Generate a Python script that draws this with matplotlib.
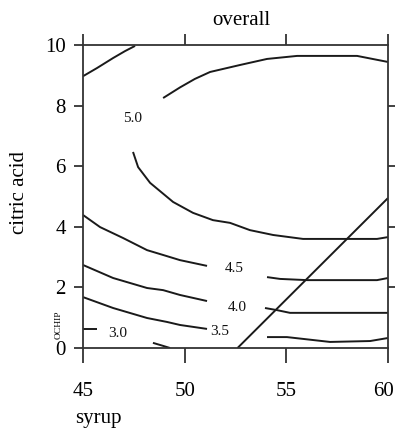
import matplotlib
matplotlib.use('Agg')
import matplotlib.pyplot as plt
import matplotlib.transforms as mtransforms

plt.rcParams['font.family'] = ['Liberation Serif', 'DejaVu Serif']

syrup_ticks = [45, 50, 55, 60]
acid_ticks = [0, 2, 4, 6, 8, 10]
acid_ticks_right = [2, 4, 6, 8]

# contour pieces (syrup, citric acid)
c50_corner_x = [45.0, 45.69, 46.48, 47.07, 47.56]
c50_corner_y = [8.97, 9.24, 9.57, 9.80, 9.97]
c50_top_x = [48.94, 49.77, 50.5, 51.25, 52.72, 54.05, 55.53, 58.48, 60.0]
c50_top_y = [8.25, 8.60, 8.88, 9.11, 9.34, 9.54, 9.64, 9.64, 9.44]
c50_low_x = [47.46, 47.71, 48.30, 49.43, 50.41, 51.39, 52.23, 53.21, 54.35, 55.82, 59.46, 60.0]
c50_low_y = [6.47, 5.97, 5.45, 4.82, 4.46, 4.22, 4.13, 3.89, 3.73, 3.60, 3.60, 3.66]

c45_left_x = [45.0, 45.84, 46.97, 48.15, 48.94, 49.77, 51.1]
c45_left_y = [4.39, 3.99, 3.63, 3.23, 3.07, 2.90, 2.71]
c45_right_x = [54.05, 54.69, 56.02, 59.46, 60.0]
c45_right_y = [2.34, 2.28, 2.24, 2.24, 2.31]

c40_left_x = [45.0, 46.48, 48.15, 48.94, 49.77, 51.1]
c40_left_y = [2.74, 2.31, 1.98, 1.91, 1.75, 1.55]
c40_right_x = [53.95, 54.54, 55.18, 60.0]
c40_right_y = [1.32, 1.25, 1.16, 1.16]

c35_left_x = [45.0, 46.48, 48.15, 49.13, 49.77, 51.1]
c35_left_y = [1.68, 1.32, 0.99, 0.86, 0.76, 0.63]
c35_right_x = [54.05, 55.03, 57.15, 59.12, 60.0]
c35_right_y = [0.36, 0.36, 0.20, 0.23, 0.33]

c30_left_x = [45.0, 45.7]
c30_left_y = [0.63, 0.63]
c30_bottom_x = [48.44, 48.94, 49.28]
c30_bottom_y = [0.17, 0.07, 0.0]

# straight boundary line on the right
edge_x = [52.6, 60.0]
edge_y = [0.0, 4.95]

level_labels = ['5.0', '4.5', '4.0', '3.5', '3.0']
level_x = [47.46, 52.45, 52.57, 51.74, 46.72]
level_y = [7.56, 2.64, 1.34, 0.54, 0.48]

fig = plt.figure(figsize=(3.96, 4.32), dpi=100)
ax = fig.add_axes([83/396, 1-348/432, 305/396, 303/432])

line_col = '#1a1a1a'
pieces = [
    (c50_corner_x, c50_corner_y), (c50_top_x, c50_top_y), (c50_low_x, c50_low_y),
    (c45_left_x, c45_left_y), (c45_right_x, c45_right_y),
    (c40_left_x, c40_left_y), (c40_right_x, c40_right_y),
    (c35_left_x, c35_left_y), (c35_right_x, c35_right_y),
    (c30_left_x, c30_left_y), (c30_bottom_x, c30_bottom_y),
    (edge_x, edge_y),
]
for px, py in pieces:
    ax.plot(px, py, color=line_col, lw=1.4, solid_capstyle='butt')

for lab, lx, ly in zip(level_labels, level_x, level_y):
    ax.text(lx, ly, lab, fontsize=11, ha='center', va='center', color='#111111')

ax.set_xlim(45, 60)
ax.set_ylim(0, 10)
ax.set_xticks(syrup_ticks)
ax.set_yticks(acid_ticks)
ax.tick_params(axis='x', direction='out', length=10.8, width=1.3, pad=13.5,
               labelsize=15, color='#333333')
ax.tick_params(axis='y', direction='out', length=6.5, width=1.3, pad=6,
               labelsize=15, color='#333333')
for s in ax.spines.values():
    s.set_linewidth(1.3)
    s.set_color('#333333')

# last x label sits a bit left so it stays inside the picture
shift = mtransforms.ScaledTranslation(-5/100, 0, fig.dpi_scale_trans)
last = ax.get_xticklabels()[-1]
last.set_transform(last.get_transform() + shift)

# top and right ticks without labels
top = ax.secondary_xaxis('top')
top.set_xticks(syrup_ticks)
top.tick_params(direction='out', length=8, width=1.3, labeltop=False, color='#333333')
top.spines['top'].set_visible(False)
right = ax.secondary_yaxis('right')
right.set_yticks(acid_ticks_right)
right.tick_params(direction='out', length=5, width=1.3, labelright=False, color='#333333')
right.spines['right'].set_visible(False)

fig.text(241/396, 1-25/432, 'overall', fontsize=15, ha='center', va='baseline')
fig.text(75/396, 1-423/432, 'syrup', fontsize=15, ha='left', va='baseline')
fig.text(20/396, 1-192/432, 'citric acid', fontsize=15, rotation=90, ha='center', va='center')
fig.text(59/396, 1-325/432, 'OCHIP', fontsize=6.8, rotation=90, ha='center', va='center')

fig.savefig('out.png', dpi=100)
